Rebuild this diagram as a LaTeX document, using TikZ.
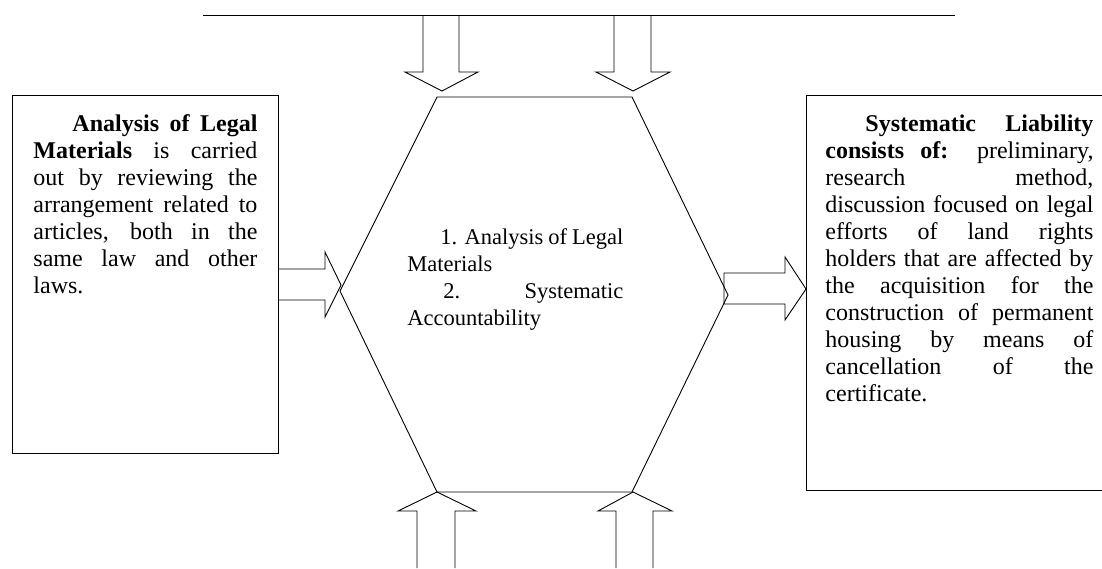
\documentclass[tikz,border=0pt]{standalone}
\usepackage{fontspec}
\setmainfont{Liberation Serif}

\begin{document}
\begin{tikzpicture}[x = 1pt, y = -1pt, line width = .9pt,
    panel/.style = {draw, rectangle, inner sep = 0pt, anchor = north west},
    paneltext/.style = {anchor = base west, inner sep = 0pt, text width = #1, align = justify,
        font = \fontsize{24}{27}\selectfont\parindent0pt},
    steptext/.style = {paneltext = #1,
        font = \fontsize{22.5}{27}\selectfont\parindent0pt\hyphenpenalty10000}]
    \useasboundingbox (0, 0) rectangle (1102, 568);

    % bar on top with the two arrows going down
    \draw (203, 15) -- (955, 15);
    \draw (423, 15) -- (423, 72) -- (405, 72) -- (442, 91) -- (478, 72) -- (459, 72) -- (459, 15);
    \draw (614, 15) -- (614, 72) -- (596, 72) -- (633, 91) -- (670, 72) -- (651, 72) -- (651, 15);

    % hexagon in the middle
    \draw (437, 97) coordinate (hexnw) -- (632, 97) coordinate (hexne) -- (728, 295) coordinate (hexe)
        -- (632, 492) coordinate (hexse) -- (437, 492) coordinate (hexsw) -- (340, 291) coordinate (hexw) -- cycle;
    \node [steptext = 216pt] (steps) at (407, 244)
        {\hspace*{33pt}1. Analysis of Legal\linebreak Materials\par
         \hspace*{36pt}2. Systematic\linebreak Accountability};

    % left box
    \node [panel, minimum width = 266pt, minimum height = 358pt] (legal) at (12, 95) {};
    \node [paneltext = 224pt] (legaltext) at ([shift = {(21, 36)}]legal.north west)
        {\hspace*{39pt}\textbf{Analysis of Legal}\linebreak
         \textbf{Materials} is carried\linebreak
         out by reviewing the\linebreak
         arrangement related to\linebreak
         articles, both in the\linebreak
         same law and other\linebreak
         laws.};

    % right box
    \node [panel, minimum width = 298pt, minimum height = 395pt] (liability) at (806, 95) {};
    \node [paneltext = 268pt] (liabilitytext) at ([shift = {(19, 36)}]liability.north west)
        {\hspace*{40pt}\textbf{Systematic Liability}\linebreak
         \textbf{consists of:} preliminary,\linebreak
         research method,\linebreak
         discussion focused on legal\linebreak
         efforts of land rights\linebreak
         holders that are affected by\linebreak
         the acquisition for the\linebreak
         construction of permanent\linebreak
         housing by means of\linebreak
         cancellation of the\linebreak
         certificate.};

    % side arrows
    \draw (legal.east |- 0, 269) -- (325, 269) -- (325, 252) -- (341, 285) -- (325, 317) -- (325, 300) -- (legal.east |- 0, 300);
    \draw (724, 273) -- (785, 273) -- (785, 257) -- (liability.west |- 0, 289) -- (785, 320) -- (785, 304) -- (724, 304) -- cycle;

    % arrows coming up from below
    \draw (417, 568) -- (417, 511) -- (398, 511) -- (hexsw) -- (476, 511) -- (455, 511) -- (455, 568);
    \draw (616, 568) -- (616, 511) -- (598, 511) -- (633, 492) -- (672, 511) -- (653, 511) -- (653, 568);
\end{tikzpicture}
\end{document}
